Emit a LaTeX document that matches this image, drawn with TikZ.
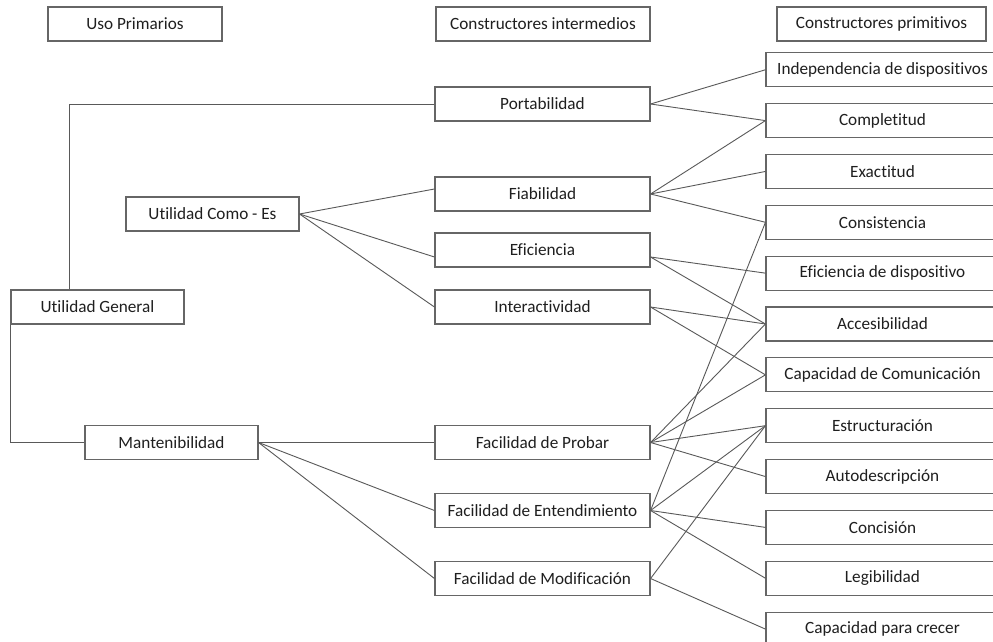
\documentclass[tikz,border=0pt]{standalone}
\usepackage{fontspec}
\setmainfont[Ligatures=NoCommon]{Carlito}
\begin{document}
\begin{tikzpicture}[x=1pt,y=-1pt,
  box/.style={draw=black!60, line width=1.1pt, fill=white, rectangle, inner sep=0pt,
    minimum height=34pt, font=\fontsize{17.2}{20}\selectfont, text=black!88},
  c1/.style={box, minimum width=173pt},
  c2/.style={box, minimum width=215pt},
  c3/.style={box, minimum width=233pt},
  link/.style={draw=black!65, line width=0.9pt}]
\clip (0,0) rectangle (993,642);
\fill[white] (0,0) rectangle (993,642);

% headers
\node[box, minimum width=174pt] (h1) at (135,24) {Uso Primarios};
\node[box, minimum width=214pt] (h2) at (543,24) {Constructores intermedios};
\node[box, minimum width=209pt] (h3) at (881.5,24) {Constructores primitivos};

% column 1
\node[c1] (como) at (212.5,214) {Utilidad Como - Es};
\node[c1] (ug) at (97.5,307) {Utilidad General};
\node[c1] (mant) at (171.5,442.5) {Mantenibilidad};

% column 2
\node[c2] (port) at (542.5,104) {Portabilidad};
\node[c2] (fia) at (542.5,194) {Fiabilidad};
\node[c2] (efi) at (542.5,250) {Eficiencia};
\node[c2] (inter) at (542.5,307) {Interactividad};
\node[c2] (prob) at (542.5,442.5) {Facilidad de Probar};
\node[c2] (ent) at (542.5,510.5) {Facilidad de Entendimiento};
\node[c2] (mod) at (542.5,578.5) {Facilidad de Modificación};

% column 3
\node[c3] (indep) at (882.5,69.75) {Independencia de dispositivos};
\node[c3] (comp) at (882.5,120.6) {Completitud};
\node[c3] (exac) at (882.5,171.45) {Exactitud};
\node[c3] (cons) at (882.5,222.3) {Consistencia};
\node[c3] (efd) at (882.5,273.15) {Eficiencia de dispositivo};
\node[c3] (acc) at (882.5,324) {Accesibilidad};
\node[c3] (capc) at (882.5,374.85) {Capacidad de Comunicación};
\node[c3] (estr) at (882.5,425.7) {Estructuración};
\node[c3] (auto) at (882.5,476.55) {Autodescripción};
\node[c3] (conc) at (882.5,527.4) {Concisión};
\node[c3] (legi) at (882.5,578.25) {Legibilidad};
\node[c3] (crec) at (882.5,629.1) {Capacidad para crecer};

% left tree
\coordinate (ugT) at ([xshift=-28.5pt]ug.north);
\draw[link] (ugT) |- (port.west);
\draw[link] (ug.south west) |- (mant.west);

\draw[link] (como.east) -- ([yshift=5pt]fia.west);
\draw[link] (como.east) -- ([yshift=-7pt]efi.west);
\draw[link] (como.east) -- (inter.west);

\draw[link] (mant.east) -- (prob.west);
\draw[link] (mant.east) -- (ent.west);
\draw[link] (mant.east) -- (mod.west);

% right links
\draw[link] (port.east) -- (indep.west);
\draw[link] (port.east) -- (comp.west);
\draw[link] (fia.east) -- (comp.west);
\draw[link] (fia.east) -- (exac.west);
\draw[link] (fia.east) -- (cons.west);
\coordinate (efiE) at ([yshift=-7pt]efi.east);
\draw[link] (efiE) -- (efd.west);
\draw[link] (efiE) -- (acc.west);
\draw[link] (inter.east) -- (acc.west);
\draw[link] (inter.east) -- (capc.west);
\draw[link] (prob.east) -- (acc.west);
\draw[link] (prob.east) -- (capc.west);
\draw[link] (prob.east) -- (estr.west);
\draw[link] (prob.east) -- (auto.west);
\draw[link] (ent.east) -- (cons.west);
\draw[link] (ent.east) -- (estr.west);
\draw[link] (ent.east) -- (conc.west);
\draw[link] (ent.east) -- (legi.west);
\draw[link] (mod.east) -- (estr.west);
\draw[link] (mod.east) -- (crec.west);
\end{tikzpicture}
\end{document}
